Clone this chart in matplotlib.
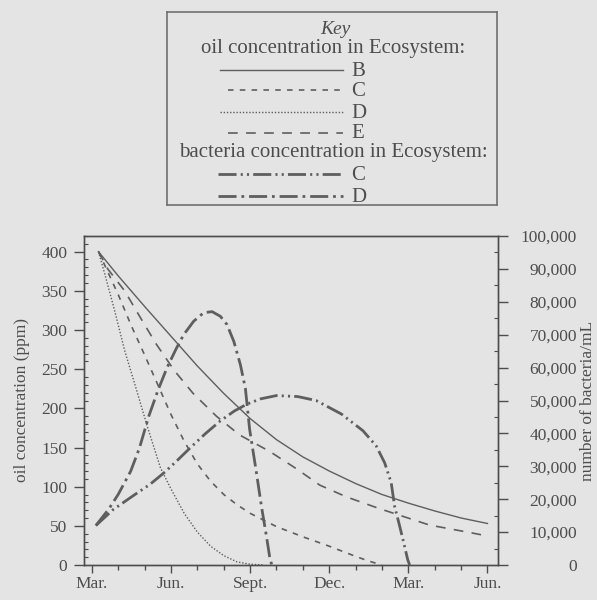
import matplotlib
matplotlib.use('Agg')
import matplotlib.pyplot as plt
from matplotlib.ticker import MultipleLocator, FuncFormatter

# months since March (0 = Mar., 15 = Jun. of the following year)
month_ticks = [0, 3, 6, 9, 12, 15]
month_labels = ['Mar.', 'Jun.', 'Sept.', 'Dec.', 'Mar.', 'Jun.']

# oil concentration (ppm)
oil_b_t = [0.25, 1, 2, 3, 4, 5, 6, 7, 8, 9, 10, 11, 12, 13, 14, 15]
oil_b = [400, 369, 330, 292, 254, 219, 187, 160, 138, 120, 104, 90, 79, 69, 60, 53]

oil_c_t = [0.25, 1.0, 1.5, 2.0, 2.5, 3.0, 3.5, 4.0, 4.5, 5.0, 5.5, 6.0, 7.0, 8.0, 9.0, 10.0, 10.5, 11.0]
oil_c = [400, 345, 305, 268, 230, 192, 158, 129, 107, 90, 77, 66, 49, 36, 24, 11, 5, 0]

oil_d_t = [0.25, 0.5, 0.86, 1.24, 1.5, 1.74, 2.1, 2.6, 3.0, 3.5, 4.0, 4.5, 5.0, 5.5, 6.0, 6.5]
oil_d = [400, 370, 325, 274, 245, 218, 177, 124, 97, 66, 42, 24, 12, 4, 1, 0]

oil_e_t = [0.25, 0.6, 1.24, 1.87, 2.44, 3.13, 3.84, 4.72, 5.6, 6.74, 7.75, 8.64, 9.65, 10.9, 12.8, 14.4, 15.0]
oil_e = [400, 378, 350, 314, 282, 248, 219, 190, 166, 145, 123, 102, 87, 72, 51, 41, 37]

# bacteria per mL
bac_c_t = [0.15, 0.8, 1.59, 2.2, 2.73, 3.2, 3.74, 4.3, 4.87, 5.4, 5.88, 6.4, 7.0, 7.8, 8.5, 9.46,
           10.28, 10.78, 11.1, 11.35, 11.48, 11.65, 11.8, 11.98, 12.05]
bac_c = [12000, 16800, 21200, 24500, 28000, 31500, 35700, 39900, 43800, 46800, 48900, 50500, 51500,
         51200, 50000, 45900, 40800, 36200, 31100, 25000, 17800, 12500, 7600, 1500, 0]

bac_d_t = [0.15, 0.64, 1.0, 1.47, 1.8, 2.16, 2.5, 2.85, 3.2, 3.48, 3.86, 4.24, 4.56, 4.87, 5.12, 5.38,
           5.63, 5.82, 5.98, 6.24, 6.43, 6.62, 6.74, 6.82]
bac_d = [12000, 17000, 21500, 28500, 35500, 45300, 53000, 60000, 65800, 70000, 74100, 76700, 77000,
         75600, 73100, 68000, 60900, 53700, 41300, 28000, 17800, 8700, 2500, 0]

bg = '#e4e4e4'
ink = '#4d4d4d'
line_col = '#5e5e5e'

plt.rcParams['font.family'] = ['Liberation Serif', 'DejaVu Serif']
plt.rcParams['lines.scale_dashes'] = False

styles = {
    'oil_b': dict(color=line_col, lw=1.0, linestyle='-'),
    'oil_c': dict(color=line_col, lw=1.2, linestyle=(0, (4, 4.5))),
    'oil_d': dict(color=line_col, lw=1.0, linestyle=(0, (1, 1.3))),
    'oil_e': dict(color=line_col, lw=1.2, linestyle=(0, (7, 6))),
    'bac_c': dict(color=line_col, lw=2.0, linestyle=(0, (13, 3, 1.5, 3, 1.5, 3))),
    'bac_d': dict(color=line_col, lw=2.0, linestyle=(0, (13, 3.5, 2, 3.5))),
}

fig = plt.figure(figsize=(5.97, 6.0), dpi=100, facecolor=bg)
ax = fig.add_axes([84 / 597, 1 - 565 / 600, 414 / 597, 329 / 600], facecolor=bg)
ax2 = ax.twinx()

ax.plot(oil_b_t, oil_b, **styles['oil_b'])
ax.plot(oil_c_t, oil_c, **styles['oil_c'])
ax.plot(oil_d_t, oil_d, **styles['oil_d'])
ax.plot(oil_e_t, oil_e, **styles['oil_e'])
ax2.plot(bac_c_t, bac_c, **styles['bac_c'])
ax2.plot(bac_d_t, bac_d, **styles['bac_d'])

ax.set_xlim(-0.3, 15.4)
ax.set_ylim(0, 420)
ax2.set_ylim(0, 100000)

ax.set_xticks(month_ticks)
ax.set_xticklabels(month_labels)
ax.xaxis.set_minor_locator(MultipleLocator(1))
ax.yaxis.set_major_locator(MultipleLocator(50))
ax.yaxis.set_minor_locator(MultipleLocator(10))
ax2.yaxis.set_major_locator(MultipleLocator(10000))
ax2.yaxis.set_minor_locator(MultipleLocator(5000))
ax2.yaxis.set_major_formatter(FuncFormatter(lambda v, p: f'{int(v):,}'))

for a in (ax, ax2):
    for s in a.spines.values():
        s.set_color(ink)
        s.set_linewidth(1.0)

ax.tick_params(axis='x', which='major', direction='out', length=6, width=1, color=ink,
               labelcolor=ink, labelsize=12.5, pad=2)
ax.tick_params(axis='x', which='minor', direction='out', length=3.5, width=1, color=ink)
ax.tick_params(axis='y', which='major', direction='out', length=7, width=1, color=ink,
               labelcolor=ink, labelsize=12.5, pad=5)
ax.tick_params(axis='y', which='minor', direction='in', length=3, width=0.8, color=ink)
ax2.tick_params(axis='y', which='major', direction='out', length=7, width=1, color=ink,
                labelcolor=ink, labelsize=12.5, pad=50)
ax2.tick_params(axis='y', which='minor', direction='in', length=3, width=0.8, color=ink)
for lab in ax2.get_yticklabels():
    lab.set_ha('right')

ax.set_ylabel('oil concentration (ppm)', color=ink, fontsize=12.5, labelpad=8)
ax2.set_ylabel('number of bacteria/mL', color=ink, fontsize=12.5, labelpad=2)

# key box
kx0, ky0, kx1, ky1 = 167, 12, 497, 205
key = fig.add_axes([kx0 / 597, 1 - ky1 / 600, (kx1 - kx0) / 597, (ky1 - ky0) / 600], facecolor=bg)
key.set_xlim(kx0, kx1)
key.set_ylim(ky1, ky0)
key.set_xticks([])
key.set_yticks([])
for s in key.spines.values():
    s.set_color('#707070')
    s.set_linewidth(1.2)

cx = 332
key.text(cx + 3, 29, 'Key', ha='center', va='center', style='italic', fontsize=14, color=ink)
key.text(cx + 1, 49, 'oil concentration in Ecosystem:', ha='center', va='center', fontsize=15, color=ink)
key.text(cx + 1, 153, 'bacteria concentration in Ecosystem:', ha='center', va='center', fontsize=15, color=ink)

key_rows = [
    ('oil_b', 'B', 70, 220),
    ('oil_c', 'C', 90, 228),
    ('oil_d', 'D', 112, 220),
    ('oil_e', 'E', 133, 228),
    ('bac_c', 'C', 174, 218),
    ('bac_d', 'D', 196, 218),
]
for name, letter, y, x_start in key_rows:
    key.plot([x_start, 343], [y, y], **styles[name])
    key.text(351, y + 1, letter, ha='left', va='center', fontsize=15, color=ink)

fig.savefig('out.png', dpi=100, facecolor=bg)
